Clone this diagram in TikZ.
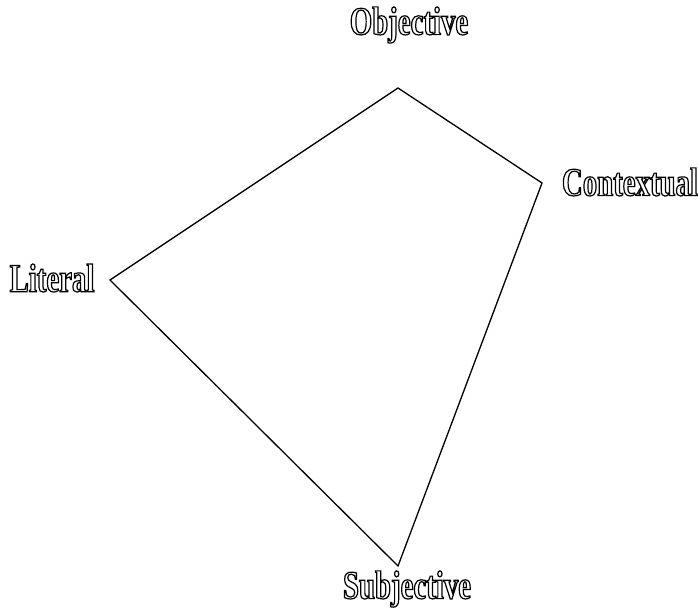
\documentclass[tikz,border=0pt]{standalone}
\usepackage{fontspec}
\setmainfont[FakeStretch=0.72]{Liberation Serif}

\tikzset{
  corner/.style={font=\fontsize{40}{40}\selectfont\bfseries, inner sep=0pt},
}
% stroked (hollow) glyphs through the pdf text render mode
\newcommand{\hollow}[1]{\special{pdf:literal 1 Tr 1.2 w}#1\special{pdf:literal 0 Tr}}

\begin{document}
\begin{tikzpicture}[x=1pt,y=-1pt]
\useasboundingbox (0,0) rectangle (698,610);

\coordinate (objV) at (398,88);
\coordinate (conV) at (542,183);
\coordinate (subV) at (398,566);
\coordinate (litV) at (110,280);

\draw[line width=1.3pt, line join=miter] (objV) -- (conV) -- (subV) -- (litV) -- cycle;

\node[corner] (obj) at (409,25) {\hollow{Objective}};
\node[corner] (con) at (630,182) {\hollow{Contextual}};
\node[corner] (lit) at (52,278) {\hollow{Literal}};
\node[corner] (sub) at (407,589) {\hollow{Subjective}};
\end{tikzpicture}
\end{document}
